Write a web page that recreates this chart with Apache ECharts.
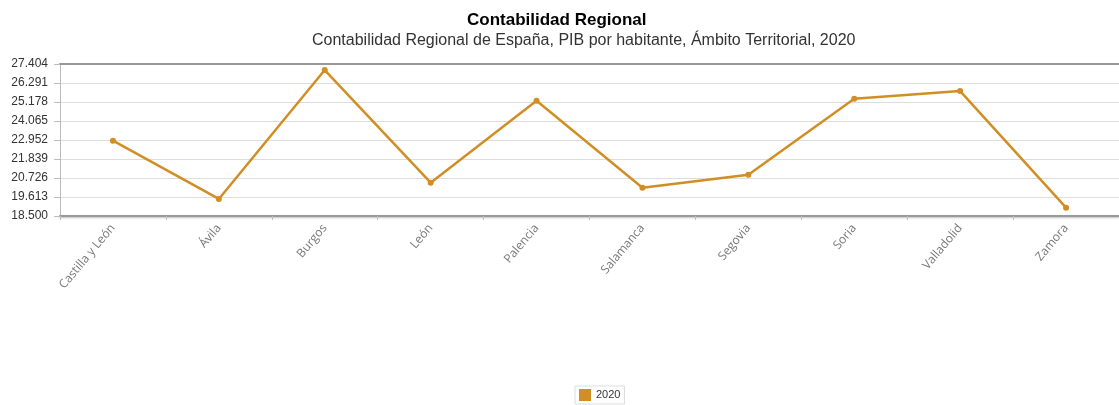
<!DOCTYPE html>
<html>
<head>
<meta charset="utf-8">
<script src="https://cdn.jsdelivr.net/npm/echarts@6/dist/echarts.min.js"></script>
<style>html,body{margin:0;padding:0;background:#fff;}#c{width:1119px;height:405px;}</style>
</head>
<body>
<div id="c"></div>
<script>
const categories = ['Castilla y León', 'Ávila', 'Burgos', 'León', 'Palencia', 'Salamanca', 'Segovia', 'Soria', 'Valladolid', 'Zamora'];
const values2020 = [22910, 19500, 27050, 20450, 25250, 20160, 20920, 25370, 25820, 18990];
const seriesName = '2020';
const yMin = 18500;
const yMax = 27404;
const yStep = 1113;

function fmt(v) {
  return String(Math.round(v)).replace(/\B(?=(\d{3})+(?!\d))/g, '.');
}

const chart = echarts.init(document.getElementById('c'));
chart.setOption({
  animation: false,
  title: [{
    text: 'Contabilidad Regional',
    left: 467,
    top: 12,
    textStyle: { fontFamily: 'Liberation Sans, Arial', fontSize: 17, fontWeight: 'bold', color: '#000' },
    padding: 0
  }, {
    text: 'Contabilidad Regional de España, PIB por habitante, Ámbito Territorial, 2020',
    left: 312,
    top: 33,
    textStyle: { fontFamily: 'Liberation Sans, Arial', fontSize: 16, fontWeight: 'normal', color: '#333' },
    padding: 0
  }],
  legend: {
    bottom: 1,
    left: 575,
    itemWidth: 12,
    itemHeight: 12,
    icon: 'rect',
    borderColor: '#ddd',
    borderWidth: 1,
    padding: [3, 4, 3, 4],
    textStyle: { fontFamily: 'Liberation Sans, Arial', fontSize: 11, color: '#333' },
    data: [seriesName]
  },
  grid: { left: 60, top: 64, width: 1063, bottom: 189, containLabel: false },
  xAxis: [{
    type: 'category',
    data: categories,
    boundaryGap: true,
    axisLine: { lineStyle: { color: '#999', width: 2, shadowColor: 'rgba(0,0,0,0.25)', shadowBlur: 2, shadowOffsetY: 1 } },
    axisTick: { show: true, length: 4, lineStyle: { color: '#bbb' } },
    axisLabel: { rotate: 50, fontFamily: 'Open Sans', fontSize: 12, color: '#777', margin: 10 },
    splitLine: { show: false }
  }, {
    type: 'category',
    position: 'top',
    data: categories,
    axisLine: { lineStyle: { color: '#999', width: 2 } },
    axisTick: { show: false },
    axisLabel: { show: false }
  }],
  yAxis: {
    type: 'value',
    min: yMin,
    max: yMax,
    interval: yStep,
    axisLine: { show: true, lineStyle: { color: '#bbb' } },
    axisTick: { show: true, length: 6, lineStyle: { color: '#bbb' } },
    axisLabel: { formatter: fmt, fontFamily: 'Liberation Sans, Arial', fontSize: 12, color: '#333', margin: 12, padding: [0, 0, 5, 0] },
    splitLine: { lineStyle: { color: '#ddd' } }
  },
  series: [{
    name: seriesName,
    type: 'line',
    data: values2020,
    color: '#d18e24',
    symbol: 'circle',
    symbolSize: 6,
    lineStyle: { width: 2.5, color: '#d18e24' },
    itemStyle: { color: '#d18e24' }
  }]
});
</script>
</body>
</html>
